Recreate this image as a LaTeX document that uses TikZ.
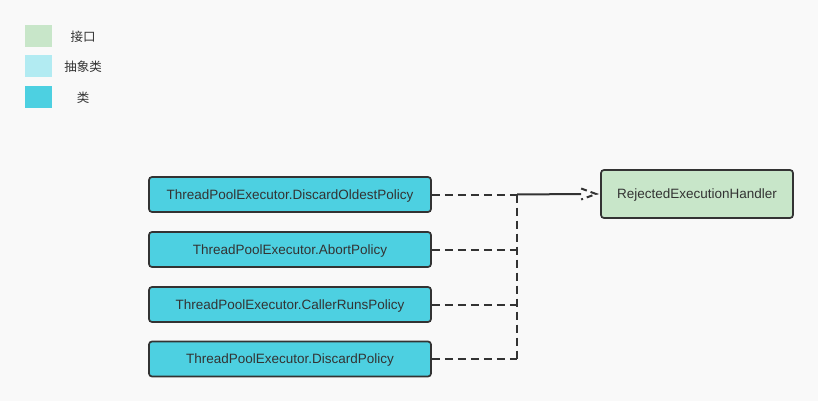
\documentclass[tikz,border=0pt]{standalone}
\usepackage{fontspec}
\setmainfont{Liberation Sans}
\newfontfamily\cjk{Noto Sans CJK SC}
\usetikzlibrary{arrows.meta,calc}
\definecolor{bgc}{HTML}{F9F9F9}
\definecolor{ifc}{HTML}{C8E6C9}
\definecolor{absc}{HTML}{B2EBF2}
\definecolor{clsc}{HTML}{4DD0E1}
\definecolor{linec}{HTML}{333333}
\begin{document}
\begin{tikzpicture}[x=1pt,y=-1pt,
  legbox/.style={minimum width=27pt,minimum height=22pt,inner sep=0pt,draw=none},
  legtxt/.style={font=\cjk\fontsize{12.5}{14}\selectfont,text=linec},
  clsbox/.style={draw=linec,line width=1.7pt,rounded corners=3pt,fill=clsc,minimum width=282pt,minimum height=35pt,inner sep=0pt,font=\fontsize{13.5}{15}\selectfont,text=linec,text height=9.5pt,text depth=0pt},
  ifbox/.style={draw=linec,line width=1.7pt,rounded corners=3pt,fill=ifc,minimum width=192pt,minimum height=48pt,inner sep=0pt,font=\fontsize{13.5}{15}\selectfont,text=linec,text height=9.5pt,text depth=0pt},
  dline/.style={draw=linec,line width=2pt,dash pattern=on 8pt off 5pt}
]
\fill[bgc] (0,0) rectangle (818,401);
\useasboundingbox (0,0) rectangle (818,401);

\node[legbox,fill=ifc] (l1) at (38.5,36) {};
\node[legbox,fill=absc] (l2) at (38.5,66) {};
\node[legbox,fill=clsc] (l3) at (38.5,97) {};
\node[legtxt] (t1) at (83,37) {接口};
\node[legtxt] (t2) at (83,67) {抽象类};
\node[legtxt] (t3) at (83,98) {类};

\node[clsbox] (a) at (290,194.5) {ThreadPoolExecutor.DiscardOldestPolicy};
\node[clsbox] (b) at (290,249.5) {ThreadPoolExecutor.AbortPolicy};
\node[clsbox] (c) at (290,304.5) {ThreadPoolExecutor.CallerRunsPolicy};
\node[clsbox] (d) at (290,359) {ThreadPoolExecutor.DiscardPolicy};
\node[ifbox] (r) at (697,194) {RejectedExecutionHandler};

\coordinate (j) at (517,194.5);
\coordinate (jb) at (517,359);
\coordinate (tip) at ($(r.west)+(-4,0)$);
\coordinate (tb) at ($(tip)+(-15,0)$);
\coordinate (tt) at ($(tip)+(-15,-5.5)$);
\coordinate (tw) at ($(tip)+(-15,5.5)$);

\draw[dline] (a.east) -- (j);
\draw[dline] (b.east) -- (b.east -| j);
\draw[dline] (c.east) -- (c.east -| j);
\draw[dline] (d.east) -- (jb);
\draw[dline] (j) -- (jb);
\draw[draw=linec,line width=2pt] (j) -- (tb);
\draw[draw=linec,line width=2pt,dash pattern=on 6pt off 4pt] (tt) -- (tip) -- (tw);
\end{tikzpicture}
\end{document}
